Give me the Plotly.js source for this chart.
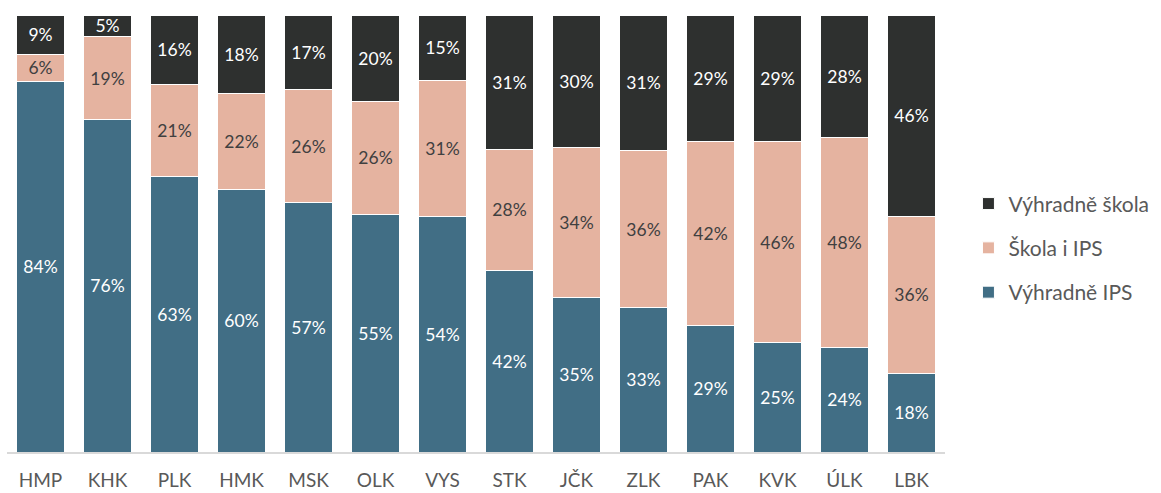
<!DOCTYPE html>
<html><head><meta charset="utf-8">
<script src="https://cdn.plot.ly/plotly-3.0.1.min.js"></script>
<style>body{margin:0;background:#fff}#c{width:1161px;height:493px}</style>
</head><body><div id="c"></div>
<script>
const categories = ["HMP","KHK","PLK","HMK","MSK","OLK","VYS","STK","JČK","ZLK","PAK","KVK","ÚLK","LBK"];
const vyhradneIPS = [84,76,63,60,57,55,54,42,35,33,29,25,24,18];
const skolaIPS    = [6,19,21,22,26,26,31,28,34,36,42,46,48,36];
const vyhradneSkola = [9,5,16,18,17,20,15,31,30,31,29,29,28,46];
const seriesNames = ["Výhradně IPS","Škola i IPS","Výhradně škola"];

const font = "Lato, 'Open Sans', sans-serif";
function tr(name, vals, color, textColor, rank){
  return {
    type:'bar', name:name, x:categories, y:vals, legendgroup:name, legendrank:rank,
    marker:{color:color, line:{color:'#ffffff', width:1}},
    text: vals.map(v=>v+'%'), textposition:'inside', insidetextanchor:'middle',
    textfont:{family:font, size:17.5, color:textColor}, hoverinfo:'none', width:0.71
  };
}
const data = [
  tr(seriesNames[0], vyhradneIPS, '#416E85', '#ffffff', 3),
  tr(seriesNames[1], skolaIPS, '#E5B3A0', '#404040', 2),
  tr(seriesNames[2], vyhradneSkola, '#2E302F', '#ffffff', 1)
];
const layout = {
  width:1161, height:493, barmode:'stack', barnorm:'percent',
  margin:{l:7, r:210, t:15, b:41},
  paper_bgcolor:'#fff', plot_bgcolor:'#fff',
  uniformtext:{mode:'show', minsize:17.5},
  font:{family:font, color:'#595959'},
  xaxis:{showline:true, linecolor:'#d9d9d9', linewidth:1.5, ticks:'', ticklabelstandoff:11,
         tickfont:{family:font, size:19, color:'#595959'}, fixedrange:true},
  yaxis:{visible:false, range:[0,100], fixedrange:true},
  showlegend:true,
  legend:{x:1.025, xanchor:'left', y:0.467, yanchor:'middle', traceorder:'grouped', tracegroupgap:14,
          font:{family:font, size:21, color:'#595959'}, itemwidth:30}
};
Plotly.newPlot('c', data, layout, {displayModeBar:false, staticPlot:true});
</script></body></html>
